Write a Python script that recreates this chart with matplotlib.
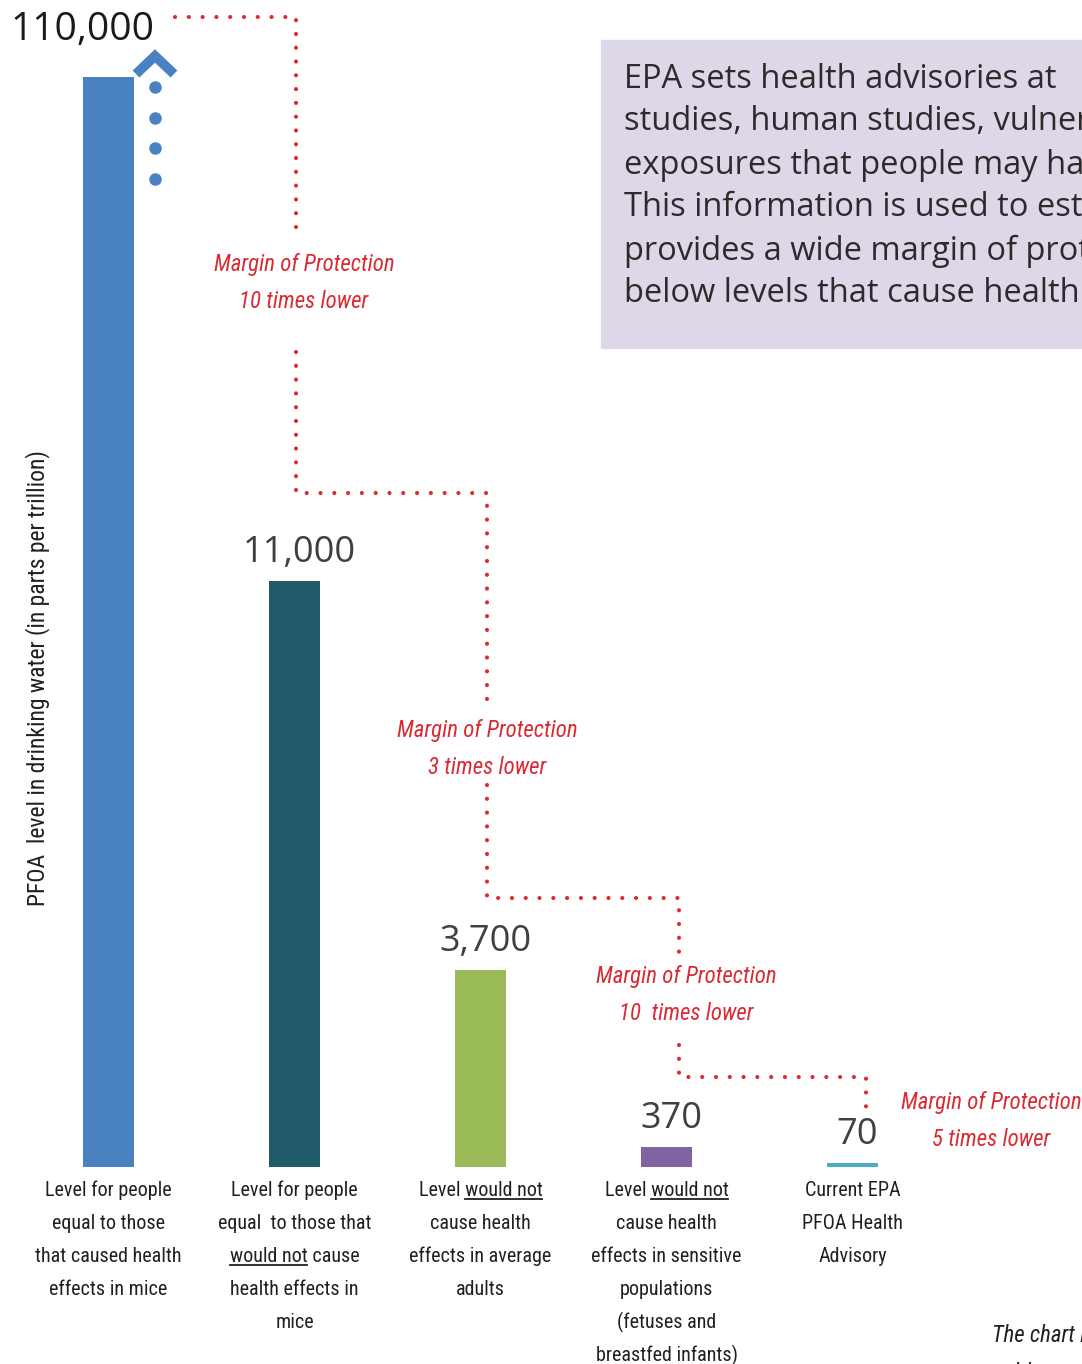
import matplotlib.pyplot as plt
from matplotlib.patches import Rectangle

# data
values = [110000, 11000, 3700, 370, 70]
value_labels = ['110,000', '11,000', '3,700', '370', '70']
colors = ['#4a81c0', '#215a69', '#9bbb59', '#8064a2', '#4bacc6']
cat_lines = [
    ['Level for people', 'equal to those', 'that caused health', 'effects in mice'],
    ['Level for people', 'equal  to those that', 'would not cause', 'health effects in', 'mice'],
    ['Level would not', 'cause health', 'effects in average', 'adults'],
    ['Level would not', 'cause health', 'effects in sensitive', 'populations', '(fetuses and', 'breastfed infants)'],
    ['Current EPA', 'PFOA Health', 'Advisory'],
]
underlines = {(1, 2): 'would not', (2, 0): 'would not', (3, 0): 'would not'}
margins = ['Margin of Protection\n10 times lower', 'Margin of Protection\n3 times lower',
           'Margin of Protection\n10  times lower', 'Margin of Protection\n5 times lower']
box_lines = ['EPA sets health advisories at',
             'studies, human studies, vulnerable',
             'exposures that people may have',
             'This information is used to establish',
             'provides a wide margin of protection',
             'below levels that cause health']

W, H = 1082, 1364
COND = ['Roboto Condensed', 'Roboto', 'DejaVu Sans']
RED = '#da2a33'
LAB_FS = 14.5

fig = plt.figure(figsize=(W / 100, H / 100), dpi=100)

# main bar axes: baseline at y=1167px, top at y=77px
ymax = 11000 * 1090 / 586
ax = fig.add_axes([0, (H - 1167) / H, 1, 1090 / H])
ax.set_xlim(-108.5 / 186, (W - 108.5) / 186)
ax.set_ylim(0, ymax)
ax.axis('off')
x = list(range(len(values)))
ax.bar(x, values, width=51 / 186, color=colors)

for i, (v, lab) in enumerate(zip(values, value_labels)):
    if v > ymax:
        ax.annotate(lab, xy=(i, ymax), xytext=(-26, 37), textcoords='offset pixels',
                    ha='center', va='baseline', fontsize=28, color='#1a1a1a',
                    family='Open Sans', annotation_clip=False)
    else:
        ax.annotate(lab, xy=(i, v), xytext=(5, 19), textcoords='offset pixels',
                    ha='center', va='baseline', fontsize=26, color='#404040',
                    family='Open Sans')

# category labels
label_texts = {}
for i, lines in enumerate(cat_lines):
    for k, line in enumerate(lines):
        t = ax.annotate(line, xy=(i, 0), xytext=(0, -(29 + 33 * k)), textcoords='offset pixels',
                        ha='center', va='baseline', fontsize=LAB_FS, color='#231f20', family=COND,
                        annotation_clip=False)
        label_texts[(i, k)] = t

# overlay in pixel coordinates for the annotations
ov = fig.add_axes([0, 0, 1, 1], zorder=3)
ov.set_xlim(0, W)
ov.set_ylim(H, 0)
ov.axis('off')
ov.patch.set_alpha(0)

# text box
ov.add_patch(Rectangle((601, 40), 600, 308, color='#ddd7e8', zorder=0))
for k, line in enumerate(box_lines):
    ov.text(624, 79 + 43 * k, line, fontsize=23.5, family='Open Sans', color='#2e2a2b',
            va='center', ha='left')

# arrow + dots above first bar
ov.plot([136, 155, 174], [74, 56, 74], color=colors[0], lw=7, solid_joinstyle='miter',
        solid_capstyle='butt')
ov.plot([155] * 4, [87, 118, 148, 179], 'o', color=colors[0], ms=8)

# red dotted connectors
dot = dict(color=RED, lw=3, linestyle=(0, (0.01, 3.3)), dash_capstyle='round')
segs = [
    ([175, 296, 296], [17, 17, 240]),
    ([296, 296, 487, 487], [352, 493, 493, 712]),
    ([487, 487, 679, 679], [785, 898, 898, 955]),
    ([679, 679, 866, 866], [1045, 1077, 1077, 1110]),
]
for sx, sy in segs:
    ov.plot(sx, sy, **dot)

mpos = [(304, 283), (487, 749), (686, 995), (991, 1121)]
for (mx, my), txt in zip(mpos, margins):
    ov.text(mx, my, txt, ha='center', va='center', fontsize=16.5, style='italic',
            color=RED, family=COND, linespacing=1.75)

ov.text(992, 1336, 'The chart is', ha='left', va='center', fontsize=16.5, style='italic',
        color='#231f20', family=COND)
ov.text(992, 1372, 'not to scale', ha='left', va='center', fontsize=16.5, style='italic',
        color='#231f20', family=COND)

# y label
ov.text(38, 678, 'PFOA  level in drinking water (in parts per trillion)', rotation=90,
        ha='center', va='center', fontsize=17, color='#231f20', family=COND)

# underline the "would not" parts
fig.canvas.draw()
r = fig.canvas.get_renderer()
for (i, k), word in underlines.items():
    t = label_texts[(i, k)]
    line = cat_lines[i][k]
    bb = t.get_window_extent(r)
    pre = line[:line.index(word) + len(word)]
    tmp = ov.text(0, 0, pre, fontsize=LAB_FS, family=COND)
    wpre = tmp.get_window_extent(r).width
    tmp.set_text(word)
    wword = tmp.get_window_extent(r).width
    tmp.remove()
    x1 = bb.x0 + wpre
    x0 = x1 - wword
    ybase = 1167 + 29 + 33 * k + 3
    ov.plot([x0, x1], [ybase, ybase], color='#231f20', lw=1.3)

fig.savefig('out.png', dpi=100)
